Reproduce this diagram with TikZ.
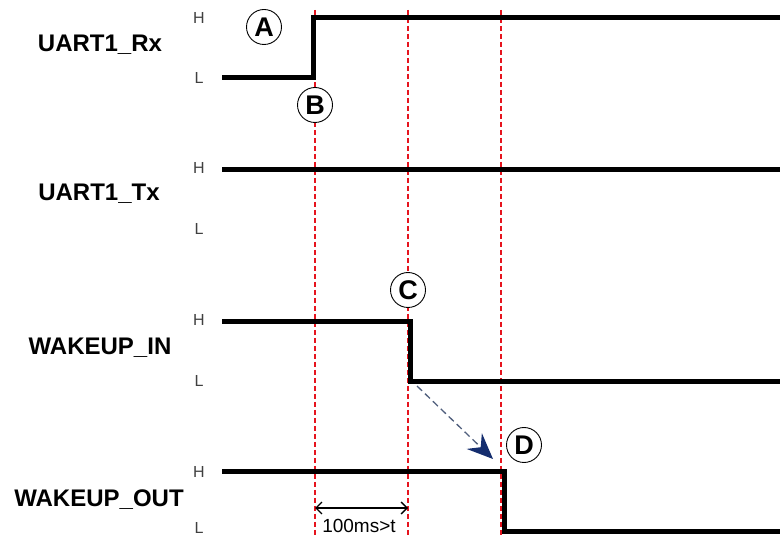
\documentclass[tikz,border=0pt]{standalone}
\usepackage{fontspec}
\setmainfont{Liberation Sans}
\usetikzlibrary{arrows.meta}
\definecolor{navy}{RGB}{20,45,110}
\definecolor{dashblue}{RGB}{80,95,125}
\definecolor{guidered}{RGB}{230,20,30}
\begin{document}
\begin{tikzpicture}[x=1pt,y=-1pt,
  sig/.style={line width=5pt, line join=miter, line cap=butt},
  guide/.style={guidered, line width=1.4pt, dash pattern=on 5pt off 3pt},
  signame/.style={font=\bfseries\fontsize{24}{24}\selectfont, anchor=base, inner sep=0pt},
  lvl/.style={font=\fontsize{16}{16}\selectfont, text=black!75, inner sep=0pt},
  badge/.style={circle, draw, line width=0.9pt, fill=white, minimum size=35pt, inner sep=0pt,
    font=\bfseries\fontsize{27}{27}\selectfont},
]
\useasboundingbox (0,0) rectangle (780,537);

% timing guides
\draw[guide] (315,10) -- (315,537);
\draw[guide] (408,10) -- (408,537);
\draw[guide] (501,10) -- (501,537);

% signal names
\node[signame] (nrx)  at (100,52)  {UART1\_Rx};
\node[signame] (ntx)  at (99,201)  {UART1\_Tx};
\node[signame] (nin)  at (100,355) {WAKEUP\_IN};
\node[signame] (nout) at (99,507)  {WAKEUP\_OUT};

% level marks
\node[lvl] (rxh)  at (199,18)  {H};
\node[lvl] (rxl)  at (199,78)  {L};
\node[lvl] (txh)  at (199,168) {H};
\node[lvl] (txl)  at (199,229) {L};
\node[lvl] (inh)  at (199,320) {H};
\node[lvl] (inl)  at (199,381) {L};
\node[lvl] (outh) at (199,472) {H};
\node[lvl] (outl) at (199,528) {L};

% waveforms
\draw[sig] (222,78) -- (313,78) -- (313,18) -- (780,18);
\draw[sig] (222,170) -- (780,170);
\draw[sig] (222,322) -- (410,322) -- (410,382) -- (780,382);
\draw[sig] (222,472) -- (504,472) -- (504,531) -- (780,531);

% event markers
\node[badge] (ea) at (264,27)  {A};
\node[badge] (eb) at (315,105) {B};
\node[badge] (ec) at (408,290) {C};
\node[badge] (ed) at (524,445) {D};

% cause and effect
\coordinate (fall) at (417,386);
\coordinate (resp) at (493,459);
\draw[dashblue, line width=1.3pt, dash pattern=on 7pt off 4pt,
  -{Stealth[length=26pt, width=22pt, inset=9pt, navy, line width=0pt]}] (fall) -- (resp);

% delay span
\coordinate (ts) at (315,508);
\coordinate (te) at (408,508);
\draw[line width=1.3pt, {Straight Barb[length=6pt, width=12pt]}-{Straight Barb[length=6pt, width=12pt]}] (ts) -- (te);
\node[font=\fontsize{19}{19}\selectfont, inner sep=0pt] (dl) at (359,526) {100ms>t};
\end{tikzpicture}
\end{document}
